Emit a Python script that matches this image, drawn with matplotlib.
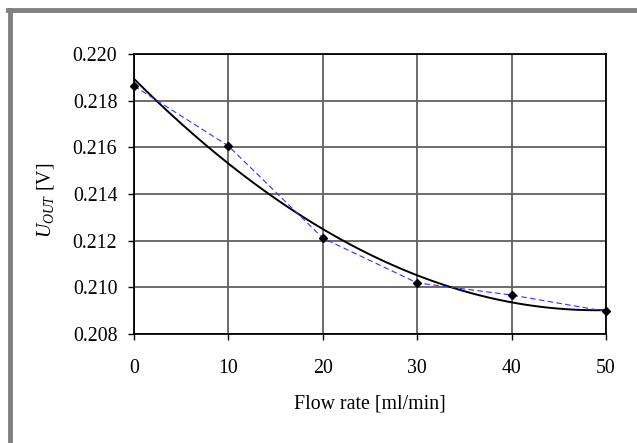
import numpy as np
import matplotlib.pyplot as plt
from matplotlib.lines import Line2D

flow = [0, 10, 20, 30, 40, 50]
u_out = [0.21863, 0.21606, 0.21211, 0.21019, 0.20967, 0.20897]
x_ticks = [0, 10, 20, 30, 40, 50]
y_ticks = [0.208, 0.210, 0.212, 0.214, 0.216, 0.218, 0.220]

plt.rcParams['font.family'] = ['Liberation Serif', 'DejaVu Serif']
plt.rcParams['mathtext.fontset'] = 'custom'
plt.rcParams['mathtext.rm'] = 'Liberation Serif'
plt.rcParams['mathtext.it'] = 'Liberation Serif:italic'

fig = plt.figure(figsize=(6.37, 4.43), dpi=100)
W, H = 637, 443
ax = fig.add_axes([134 / W, 1 - 334 / H, (606 - 134) / W, (334 - 54) / H])

# polynomial trend line (2nd order) from the measured points
coef = np.polyfit(flow, u_out, 2)
xs = np.linspace(0, 50, 200)
ax.plot(xs, np.polyval(coef, xs), color='black', lw=1.4, zorder=3)
ax.plot(flow, u_out, color='#3030ff', lw=0.8, ls=(0, (5, 3)), zorder=3)
ax.plot(flow, u_out, ls='none', marker='D', ms=4.5, color='black', zorder=4, clip_on=False)

ax.set_xlim(0, 50)
ax.set_ylim(0.208, 0.220)
ax.set_xticks(x_ticks)
ax.set_yticks(y_ticks)
ax.set_yticklabels([f'{v:.3f}' for v in y_ticks])
ax.grid(True, color='#606060', lw=1.3)
ax.set_axisbelow(True)
for s in ax.spines.values():
    s.set_color('black')
    s.set_linewidth(1.3)
ax.tick_params(direction='out', length=4, width=1, labelsize=14.3, colors='black')
ax.tick_params(axis='y', pad=8)
ax.tick_params(axis='x', pad=14)

ax.set_xlabel('Flow rate [ml/min]', fontsize=14.3, labelpad=12)
ax.set_ylabel(r'$U_{OUT}$ [V]', fontsize=14.3, labelpad=12)
ax.yaxis.label.set_y(0.478)

# gray frame on top and left
fig.add_artist(Line2D([9.5 / W, 9.5 / W], [0, 1 - 9.5 / H], color='#808080', lw=3.5,
                      transform=fig.transFigure))
fig.add_artist(Line2D([8 / W, 1], [1 - 9.5 / H, 1 - 9.5 / H], color='#808080', lw=3.5,
                      transform=fig.transFigure))

fig.savefig('out.png', dpi=100)
